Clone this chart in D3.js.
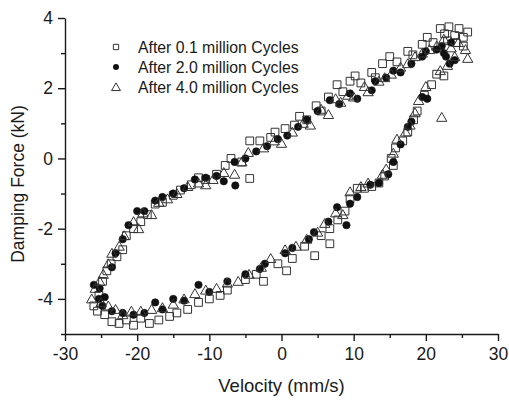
<!DOCTYPE html>
<html>
<head>
<meta charset="utf-8">
<script src="https://cdn.jsdelivr.net/npm/d3@7"></script>
<style>
  html, body { margin: 0; padding: 0; background: #fff; }
  svg { display: block; font-family: "Liberation Sans", Arial, sans-serif; }
</style>
</head>
<body>
<svg id="chart" width="509" height="400"></svg>
<script>
// Damping force vs. velocity after three fatigue stages (x: mm/s, y: kN)
const seriesNames = ["After 0.1 million Cycles", "After 2.0 million Cycles", "After 4.0 million Cycles"];

const cycles01 = [
  [-26.0,-4.2],[-25.3,-3.9],[-24.8,-3.5],[-24.2,-3.2],[-23.6,-3.0],[-22.8,-2.8],[-22.0,-2.6],[-21.5,-2.2],
  [-20.5,-2.0],[-19.5,-1.8],[-18.6,-1.6],[-17.5,-1.3],[-16.5,-1.25],[-15.0,-1.05],[-14.0,-0.9],[-12.5,-0.75],
  [-11.5,-0.55],[-10.5,-0.6],[-9.0,-0.45],[-7.8,-0.2],[-7.0,0.0],[-5.5,-0.1],[-4.4,-0.57],[-4.4,0.5],
  [-3.0,0.5],[-1.5,0.6],[-0.9,0.75],[0.5,0.85],[1.8,0.95],[2.5,1.2],[3.5,1.1],[4.8,1.5],[5.5,1.35],
  [6.5,1.75],[7.7,2.1],[8.5,1.9],[9.5,2.2],[10.2,2.35],[11.0,2.15],[12.5,2.45],[13.0,2.3],[14.0,2.7],
  [15.0,2.9],[16.0,2.75],[17.5,3.05],[18.2,2.95],[19.5,3.25],[20.2,3.45],[21.0,3.3],[22.0,3.7],[22.6,3.55],
  [23.2,3.75],[24.0,3.5],[24.6,3.7],[25.2,3.45],[25.8,3.6],[25.2,3.2],[24.2,3.3],[23.0,3.35],
  [21.5,2.4],[22.5,2.35],[20.8,2.1],[19.8,1.8],[18.8,1.35],[18.3,1.1],[17.5,0.75],[16.8,0.5],[15.8,0.3],
  [15.5,-0.2],[15.2,0.0],[14.3,-0.5],[13.5,-0.7],[12.5,-0.8],[11.5,-0.85],[10.5,-0.85],[9.5,-1.15],
  [8.8,-1.5],[7.8,-1.75],[6.7,-2.0],[6.7,-2.43],[5.5,-2.2],[4.6,-2.77],[3.2,-2.5],[1.5,-2.85],[0.7,-3.2],
  [-0.5,-3.0],[-2.5,-3.5],[-3.5,-3.3],[-5.0,-3.45],[-7.5,-3.75],[-8.5,-3.9],[-10.0,-4.0],[-11.5,-4.1],
  [-13.0,-4.3],[-14.5,-4.4],[-15.5,-4.5],[-17.0,-4.6],[-18.3,-4.7],[-19.5,-4.55],[-20.5,-4.75],[-21.5,-4.6],
  [-22.5,-4.7],[-23.5,-4.65],[-24.5,-4.45],[-25.5,-4.35]
];

const cycles20 = [
  [-26.0,-3.6],[-25.2,-3.7],[-24.5,-3.95],[-23.5,-3.1],[-23.0,-2.7],[-22.0,-2.3],[-21.2,-1.9],[-20.0,-1.5],
  [-19.0,-1.5],[-17.5,-1.2],[-16.5,-1.1],[-15.0,-1.0],[-13.5,-0.85],[-12.0,-0.6],[-10.5,-0.55],[-9.0,-0.5],
  [-8.0,-0.65],[-6.4,-0.77],[-6.5,-0.1],[-5.0,0.0],[-3.5,0.2],[-2.0,0.35],[-0.5,0.55],[0.8,0.65],[2.3,0.9],
  [3.5,1.1],[5.0,1.35],[6.7,1.66],[8.0,1.55],[9.5,1.85],[10.5,1.7],[12.5,1.94],[13.0,2.2],[14.5,2.3],
  [15.5,2.5],[16.5,2.45],[18.0,2.7],[19.5,2.9],[20.0,3.05],[21.5,3.1],[22.2,3.2],[22.8,2.9],[23.3,2.7],
  [24.0,2.8],[23.5,3.3],[22.5,3.0],
  [20.2,1.7],[19.5,1.75],[18.0,1.05],[17.5,0.9],[16.5,0.4],[15.5,-0.1],[14.8,-0.45],[13.5,-0.7],[12.3,-0.75],
  [10.5,-1.1],[9.5,-1.29],[9.0,-1.9],[7.7,-1.39],[6.5,-1.8],[4.5,-2.1],[3.8,-2.3],[1.5,-2.55],[0.5,-2.7],
  [-2.3,-3.0],[-3.0,-3.15],[-5.0,-3.3],[-7.5,-3.5],[-10.0,-3.8],[-11.5,-3.6],[-13.5,-4.05],[-15.0,-4.0],
  [-16.5,-4.3],[-17.5,-4.1],[-19.0,-4.4],[-20.5,-4.45],[-22.0,-4.4],[-23.5,-4.35],[-24.8,-4.2],[-25.3,-4.0]
];

const cycles40 = [
  [-26.3,-4.0],[-25.8,-3.7],[-25.2,-3.5],[-24.7,-3.3],[-24.0,-3.0],[-23.5,-2.7],[-22.5,-2.5],[-21.8,-2.2],
  [-20.5,-1.8],[-19.8,-2.0],[-19.2,-1.55],[-18.0,-1.6],[-17.0,-1.25],[-15.8,-1.15],[-14.5,-1.0],[-13.0,-0.8],
  [-11.5,-0.7],[-10.5,-0.75],[-9.5,-0.6],[-8.0,-0.4],[-6.5,-0.45],[-5.5,-0.1],[-4.6,0.17],[-2.5,0.3],
  [-1.0,0.5],[0.0,0.43],[1.5,0.75],[3.0,1.0],[4.0,0.95],[5.5,1.4],[6.5,1.25],[7.5,1.7],[8.2,1.6],[9.2,1.8],
  [10.0,1.75],[11.5,2.05],[12.0,1.9],[13.5,2.2],[14.3,2.3],[15.2,2.4],[16.5,2.6],[17.5,2.7],[18.5,2.9],
  [19.5,3.0],[20.5,3.1],[21.5,3.2],[22.5,3.4],[23.5,3.15],[24.5,3.3],[25.5,3.1],[25.8,2.85],[24.0,2.9],
  [23.0,2.65],[22.0,2.5],
  [22.2,1.17],[20.0,2.05],[19.0,1.65],[18.5,1.3],[17.8,0.95],[17.2,0.75],[16.0,0.55],[15.5,0.15],[14.5,-0.3],
  [14.0,-0.45],[12.0,-0.7],[11.0,-0.8],[9.5,-0.95],[8.5,-1.6],[7.5,-1.55],[6.0,-1.85],[5.0,-2.1],[3.5,-2.3],
  [2.0,-2.5],[0.5,-2.6],[-1.5,-2.85],[-2.8,-3.1],[-4.5,-3.3],[-6.0,-3.5],[-7.5,-3.55],[-9.0,-3.7],
  [-10.5,-3.75],[-12.0,-3.85],[-13.5,-4.0],[-15.0,-4.15],[-16.5,-4.25],[-18.0,-4.3],[-19.5,-4.35],
  [-20.8,-4.35],[-22.0,-4.45],[-23.0,-4.3],[-24.0,-4.2],[-25.0,-4.1]
];

const xTicks = [-30, -20, -10, 0, 10, 20, 30];
const yTicks = [-4, -2, 0, 2, 4];
const xMinor = [-25, -15, -5, 5, 15, 25];
const yMinor = [-5, -3, -1, 1, 3];

const svg = d3.select("#chart");
const margin = { left: 65, right: 11, top: 18, bottom: 66 };
const W = 509, H = 400;

const x = d3.scaleLinear().domain([-30, 30]).range([margin.left, W - margin.right]);
const y = d3.scaleLinear().domain([-5, 4]).range([H - margin.bottom, margin.top]);

const ink = "#1a1a1a";
const plain = d => String(d);   // ASCII hyphen for negatives

// axes: major ticks with labels, minor ticks without
const xAxis = svg.append("g").attr("transform", `translate(0,${y(-5)})`)
  .call(d3.axisBottom(x).tickValues(xTicks).tickSize(7).tickSizeOuter(0).tickPadding(7).tickFormat(plain));
svg.append("g").attr("transform", `translate(0,${y(-5)})`)
  .call(d3.axisBottom(x).tickValues(xMinor).tickSize(4).tickFormat(""))
  .call(g => g.select(".domain").remove());

const yAxis = svg.append("g").attr("transform", `translate(${x(-30)},0)`)
  .call(d3.axisLeft(y).tickValues(yTicks).tickSize(7).tickSizeOuter(0).tickPadding(5).tickFormat(plain));
svg.append("g").attr("transform", `translate(${x(-30)},0)`)
  .call(d3.axisLeft(y).tickValues(yMinor).tickSize(4).tickFormat(""))
  .call(g => g.select(".domain").remove());

svg.selectAll(".domain, .tick line").attr("stroke", ink).attr("stroke-width", 1.4);

svg.selectAll(".tick text")
  .attr("font-size", 17.5).attr("fill", ink)
  .attr("font-family", "'Liberation Sans', Arial, sans-serif");

// axis titles
svg.append("text")
  .attr("x", x(0)).attr("y", 392)
  .attr("text-anchor", "middle").attr("font-size", 18.5).attr("fill", ink)
  .text("Velocity (mm/s)");
svg.append("text")
  .attr("transform", `translate(24,184) rotate(-90)`)
  .attr("text-anchor", "middle").attr("font-size", 17.5).attr("fill", ink)
  .text("Damping Force (kN)");

// marker shapes
const sq = d3.symbol().type(d3.symbolSquare);
const tri = d3.symbol().type(d3.symbolTriangle);

const plot = svg.append("g");

plot.selectAll("path.sq").data(cycles01).join("path")
  .attr("class", "sq")
  .attr("transform", d => `translate(${x(d[0])},${y(d[1])})`)
  .attr("d", sq.size(60))
  .attr("fill", "none").attr("stroke", "#333").attr("stroke-width", 1);

plot.selectAll("circle.ci").data(cycles20).join("circle")
  .attr("class", "ci")
  .attr("cx", d => x(d[0])).attr("cy", d => y(d[1])).attr("r", 3.7)
  .attr("fill", "#111").attr("stroke", "#111").attr("stroke-width", 0.6);

plot.selectAll("path.tr").data(cycles40).join("path")
  .attr("class", "tr")
  .attr("transform", d => `translate(${x(d[0])},${y(d[1]) + 1})`)
  .attr("d", tri.size(46))
  .attr("fill", "none").attr("stroke", "#333").attr("stroke-width", 1);

// legend
const legend = svg.append("g");
const rows = [0, 1, 2];
const ly = i => 47 + i * 20;
legend.append("path").attr("transform", `translate(116,${ly(0)})`)
  .attr("d", sq.size(28)).attr("fill", "none").attr("stroke", "#333").attr("stroke-width", 1);
legend.append("circle").attr("cx", 116).attr("cy", ly(1)).attr("r", 3)
  .attr("fill", "#111");
legend.append("path").attr("transform", `translate(116,${ly(2) + 1})`)
  .attr("d", tri.size(34)).attr("fill", "none").attr("stroke", "#333").attr("stroke-width", 1);
legend.selectAll("text").data(rows).join("text")
  .attr("x", 138).attr("y", i => ly(i) + 5.5)
  .attr("font-size", 15.8).attr("fill", ink)
  .text(i => seriesNames[i]);
</script>
</body>
</html>
